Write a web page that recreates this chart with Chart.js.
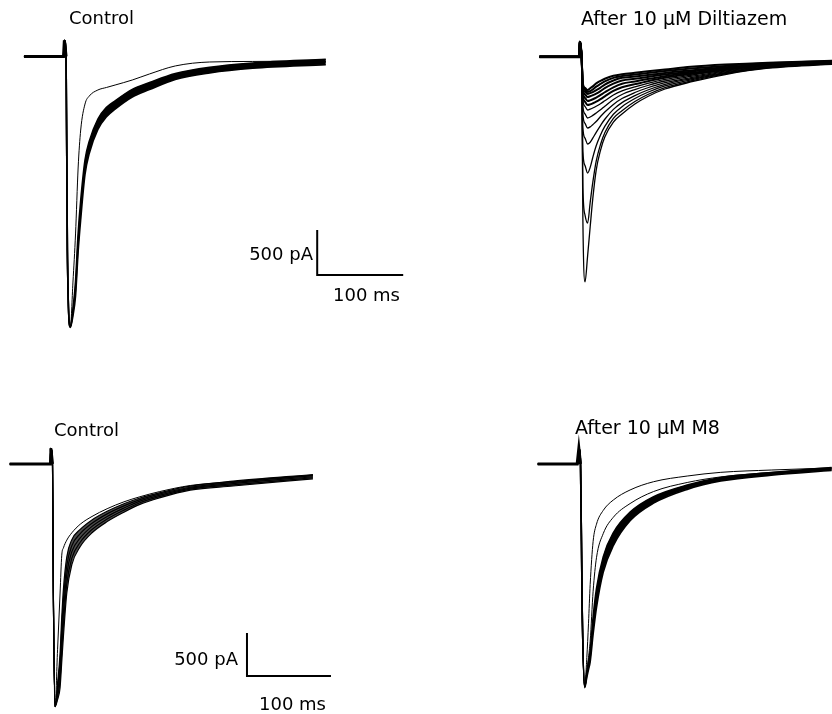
<!DOCTYPE html>
<html>
<head>
<meta charset="utf-8">
<script src="https://cdn.jsdelivr.net/npm/chart.js@4.4.0/dist/chart.umd.min.js"></script>
<style>
  body { margin:0; background:#fff; width:832px; height:714px; position:relative; overflow:hidden;
         font-family:"DejaVu Sans", sans-serif; }
  canvas { position:absolute; }
  .lbl { position:absolute; font-size:18px; line-height:18px; color:#000; white-space:nowrap; }
</style>
</head>
<body>
<canvas id="p1" width="416" height="357" style="left:0;top:0"></canvas>
<canvas id="p2" width="416" height="357" style="left:416px;top:0"></canvas>
<canvas id="p3" width="416" height="357" style="left:0;top:357px"></canvas>
<canvas id="p4" width="416" height="357" style="left:416px;top:357px"></canvas>

<div class="lbl" style="left:69px;top:9px">Control</div>
<div class="lbl" style="left:581px;top:9px;font-size:19px">After 10 µM Diltiazem</div>
<div class="lbl" style="left:54px;top:421px">Control</div>
<div class="lbl" style="left:575px;top:418px;font-size:19px">After 10 µM M8</div>
<div class="lbl" style="right:519px;top:245px">500 pA</div>
<div class="lbl" style="left:333px;top:286px">100 ms</div>
<div class="lbl" style="right:594px;top:650px">500 pA</div>
<div class="lbl" style="left:259px;top:695px">100 ms</div>

<script>
// ---- data: time (ms from step) and current (pA) of each sweep ----

// top left, control
const ctrlTopTimes = [-46, -1, 0, 1, 3, 4.5, 8, 11, 14, 17, 20, 25, 30, 40, 50, 60, 80, 100, 130, 170, 220, 305];
const ctrlTopFirst = [0, 0, 0, 180, 0, -2150, -3000, -2506, -1972, -1239, -817, -528, -439, -372, -344, -317, -261, -194, -105, -61, -55, -50];
const ctrlTopUpper = [0, 0, 0, 180, 0, -2150, -3000, -2800, -2500, -1970, -1600, -1150, -940, -695, -565, -492, -365, -290, -190, -120, -72, -30];
const ctrlTopMid   = [0, 0, 0, 180, 0, -2150, -3000, -2839, -2583, -2072, -1706, -1228, -1006, -750, -617, -539, -406, -328, -220, -150, -100, -60];
const ctrlTopLower = [0, 0, 0, 180, 0, -2150, -3010, -2880, -2660, -2170, -1810, -1310, -1075, -810, -670, -585, -450, -368, -255, -182, -130, -90];

// top right, after diltiazem (13 sweeps, use-dependent block)
const diltTimes = [-46, -1, 0, 1, 3, 4.5, 7, 10, 13, 16, 20, 25, 30, 40, 50, 65, 80, 100, 130, 170, 220, 305];
const diltSweeps = [
  [0, 0, 0, 165, 0, -1800, -2503, -2214, -1890, -1580, -1260, -1040, -892, -726, -637, -526, -442, -359, -281, -198, -128, -78],
  [0, 0, 0, 165, 0, -1450, -1760, -1848, -1620, -1400, -1160, -975, -845, -685, -600, -498, -420, -343, -270, -191, -124, -75],
  [0, 0, 0, 165, 0, -1050, -1210, -1292, -1230, -1120, -990, -870, -775, -640, -555, -465, -395, -325, -258, -184, -120, -72],
  [0, 0, 0, 165, 0, -790, -905, -970, -950, -905, -840, -765, -695, -585, -510, -432, -370, -307, -245, -176, -115, -70],
  [0, 0, 0, 165, 0, -640, -740, -792, -780, -755, -720, -665, -615, -530, -465, -398, -345, -288, -232, -168, -110, -67],
  [0, 0, 0, 165, 0, -550, -635, -681, -670, -652, -625, -590, -550, -475, -420, -365, -320, -270, -219, -160, -105, -64],
  [0, 0, 0, 165, 0, -480, -552, -592, -583, -570, -550, -522, -490, -425, -380, -335, -296, -252, -206, -152, -100, -61],
  [0, 0, 0, 165, 0, -435, -500, -537, -530, -518, -500, -472, -440, -380, -340, -305, -272, -234, -193, -144, -95, -58],
  [0, 0, 0, 165, 0, -400, -458, -492, -485, -473, -455, -425, -395, -340, -300, -275, -248, -216, -180, -136, -90, -55],
  [0, 0, 0, 165, 0, -365, -418, -448, -440, -428, -410, -382, -350, -300, -265, -245, -225, -198, -166, -126, -85, -52],
  [0, 0, 0, 165, 0, -340, -388, -414, -405, -393, -372, -343, -310, -265, -235, -220, -203, -180, -152, -116, -80, -49],
  [0, 0, 0, 165, 0, -320, -366, -392, -382, -365, -333, -303, -275, -235, -215, -198, -182, -160, -132, -102, -74, -46],
  [0, 0, 0, 165, 0, -300, -345, -370, -350, -330, -296, -268, -245, -212, -195, -178, -162, -142, -113, -88, -66, -42]
];

// bottom left, control (first sweep + band of later sweeps)
const ctrlBotTimes = [-48, -1, 0, 1, 3, 4, 6, 9, 12, 14, 16, 20, 26, 36, 50, 68, 88, 107, 130, 167, 218, 313];
const ctrlBotFirst = [0, 0, 0, 182, 0, -1500, -2822, -2160, -1500, -1060, -975, -885, -800, -700, -610, -520, -440, -381, -322, -250, -205, -130];
const ctrlBotBand = [
  [0, 0, 0, 182, 0, -1500, -2822, -2550, -2200, -1780, -1450, -1080, -880, -760, -650, -550, -462, -395, -335, -258, -200, -122],
  [0, 0, 0, 182, 0, -1500, -2822, -2600, -2300, -1900, -1580, -1180, -950, -810, -690, -580, -487, -414, -350, -270, -214, -135],
  [0, 0, 0, 182, 0, -1500, -2822, -2650, -2410, -2030, -1720, -1280, -1020, -860, -725, -610, -512, -432, -365, -281, -228, -148],
  [0, 0, 0, 182, 0, -1500, -2822, -2700, -2510, -2170, -1860, -1390, -1095, -910, -762, -640, -536, -451, -380, -292, -242, -160],
  [0, 0, 0, 182, 0, -1500, -2822, -2740, -2600, -2300, -2000, -1500, -1170, -960, -800, -670, -560, -470, -395, -303, -256, -172]
];

// bottom right, after M8
const m8Times = [-48, -1, 0, 1, 3, 5, 8, 10.5, 12.5, 14.5, 18, 22, 30, 42, 62, 90, 130, 170, 230, 302];
const m8First  = [0, 0, 0, 182, 0, -1700, -2590, -2250, -1852, -1400, -900, -700, -540, -419, -302, -206, -140, -97, -70, -45];
const m8Second = [0, 0, 0, 182, 0, -1700, -2590, -2400, -2250, -2060, -1480, -1090, -810, -620, -460, -320, -215, -150, -98, -55];
const m8Upper  = [0, 0, 0, 182, 0, -1700, -2590, -2420, -2300, -2170, -1780, -1450, -1080, -800, -560, -380, -245, -158, -100, -40];
const m8Mid    = [0, 0, 0, 182, 0, -1700, -2590, -2450, -2340, -2240, -1880, -1560, -1170, -880, -610, -420, -270, -178, -115, -58];
const m8Lower  = [0, 0, 0, 182, 0, -1700, -2600, -2480, -2390, -2300, -1980, -1670, -1260, -950, -660, -455, -295, -198, -130, -76];

// scale bars (500 pA / 100 ms)
const barAmp = 500, barDur = 100;

// ---- panels: pixel origin of (0 ms, 0 pA) and pixel scale ----
// sweep entry: [values, line width, fill target dataset index, fill colour]
const panels = [
  { id: 'p1', times: ctrlTopTimes, ox: 63.5, oy: 56.5, pxMs: 0.86, pxPa: 0.09,
    sweeps: [[ctrlTopFirst, 1], [ctrlTopUpper, 1.6], [ctrlTopMid, 1.6], [ctrlTopLower, 1.6, 1, '#000']],
    bar: { t: 295, pA: -2428 } },
  { id: 'p2', times: diltTimes, ox: 163, oy: 56.7, pxMs: 0.86, pxPa: 0.09,
    sweeps: diltSweeps.map((s, i) => [s, i < 7 ? 1.3 : 2]) },
  { id: 'p3', times: ctrlBotTimes, ox: 50, oy: 107, pxMs: 0.84, pxPa: 0.086,
    sweeps: [[ctrlBotFirst, 1]].concat(ctrlBotBand.map((s, i) => [s, 1.2, i === 4 ? 1 : false, 'rgba(0,0,0,0.7)'])),
    bar: { t: 234.5, pA: -2465 } },
  { id: 'p4', times: m8Times, ox: 162, oy: 107, pxMs: 0.84, pxPa: 0.086,
    sweeps: [[m8First, 1], [m8Second, 1], [m8Upper, 1.6], [m8Mid, 1.6], [m8Lower, 1.6, 2, '#000']] }
];

panels.forEach(p => {
  const cv = document.getElementById(p.id);
  const W = cv.width, H = cv.height;
  const datasets = p.sweeps.map(([vals, w, fillTo, fillCol]) => ({
    data: p.times.map((t, i) => ({ x: t, y: vals[i] })),
    borderColor: '#000', borderWidth: w, pointRadius: 0,
    cubicInterpolationMode: 'monotone',
    fill: fillTo === undefined ? false : fillTo,
    backgroundColor: fillCol || 'transparent'
  }));
  // thicker baseline + artifact where all sweeps overlap
  datasets.push({
    data: p.times.slice(0, 5).map((t, i) => ({ x: t, y: p.sweeps[0][0][i] })),
    borderColor: '#000', borderWidth: 3, pointRadius: 0, fill: false
  });
  if (p.bar) {
    datasets.push({
      data: [{ x: p.bar.t, y: p.bar.pA + barAmp }, { x: p.bar.t, y: p.bar.pA }, { x: p.bar.t + barDur, y: p.bar.pA }],
      borderColor: '#000', borderWidth: 2, pointRadius: 0, tension: 0, fill: false
    });
  }
  new Chart(cv, {
    type: 'line',
    data: { datasets },
    options: {
      responsive: false, animation: false,
      layout: { padding: 0 },
      plugins: { legend: { display: false }, tooltip: { enabled: false } },
      scales: {
        x: { type: 'linear', display: false, min: -p.ox / p.pxMs, max: (W - p.ox) / p.pxMs },
        y: { type: 'linear', display: false, min: -(H - p.oy) / p.pxPa, max: p.oy / p.pxPa }
      }
    }
  });
});
</script>
</body>
</html>
